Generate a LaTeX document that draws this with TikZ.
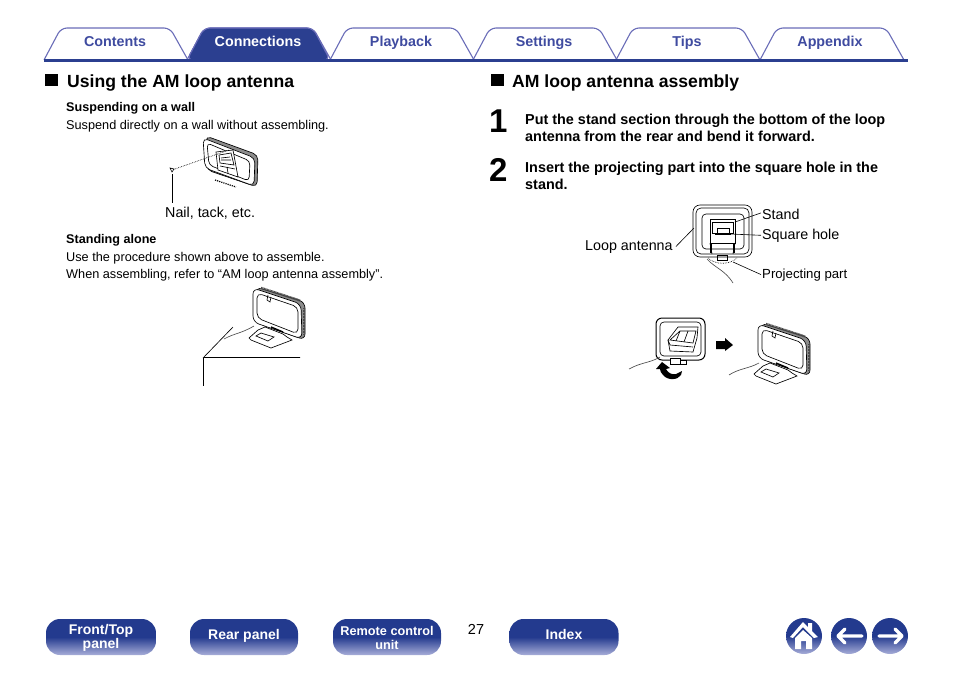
\documentclass[tikz,border=0pt]{standalone}
\usepackage{fontspec}
\setmainfont{Liberation Sans}
\usepackage{color}
\definecolor{tabblue}{HTML}{2B3F90}
\definecolor{tabtext}{HTML}{3F4BA0}
\definecolor{tabedge}{HTML}{6A6DB8}
\definecolor{btnlight}{HTML}{A7ADD8}
\definecolor{btndark}{HTML}{233A8E}
\tikzset{
  tablabel/.style={anchor=base,inner sep=0pt,text=tabtext,font=\fontsize{14.3}{14.3}\selectfont\bfseries},
  heading/.style={anchor=base west,inner sep=0pt,font=\fontsize{17.6}{17.6}\selectfont\bfseries},
  stepnum/.style={anchor=base west,inner sep=0pt,font=\fontsize{33}{33}\selectfont\bfseries},
  steptext/.style={anchor=north west,inner sep=0pt,align=left,font=\fontsize{14.4}{17}\selectfont\bfseries},
  subhead/.style={anchor=base west,inner sep=0pt,font=\fontsize{12.6}{12.6}\selectfont\bfseries},
  bodytext/.style={anchor=base west,inner sep=0pt,font=\fontsize{12.7}{12.7}\selectfont},
  partlabel/.style={anchor=base west,inner sep=0pt,font=\fontsize{14.3}{14.3}\selectfont},
  navbtn/.style={draw=none,rounded corners=14pt,minimum width=110pt,minimum height=36pt,
    top color=btndark,bottom color=btnlight,middle color=btndark,shading angle=0,
    align=center,inner sep=0pt},
  navtext/.style={anchor=base,inner sep=0pt,text=white,font=\fontsize{14}{14}\selectfont\bfseries},
  roundbtn/.style={circle,minimum size=36pt,inner sep=0pt,top color=btndark,
    bottom color=btnlight,middle color=btndark},
  leader/.style={line width=0.6pt},
  thinline/.style={line width=0.65pt},
  hatchedge/.style={line width=2.2pt,draw=black!70,dash pattern=on 1pt off 0.5pt}
}
% the loop antenna seen from the side, on its stand
\newcommand{\standloop}[2]{
\begin{scope}[shift={(#1,#2)}]
\draw[thinline,fill=black!45,rounded corners=6pt] (3,0) -- (52,15) -- (52,53) -- (4,36) -- cycle;
\draw[hatchedge] (8,0.8) -- (47,13.5);
\draw[hatchedge] (51,21) -- (51,47);
\draw[thinline,fill=white,rounded corners=6pt] (0,1) -- (48,17) -- (49,52) -- (0,35) -- cycle;
\draw[thinline,rounded corners=5pt] (4,6) -- (45,20) -- (45,47) -- (4,31) -- cycle;
\draw[thinline,fill=white] (5,43) -- (-4,51) -- (-2,53) -- (18,61) -- (39,53) -- (34,50) -- (30,47) -- (12,40) -- cycle;
\draw[thinline] (3,49) -- (8,46) -- (21,50) -- (15,54) -- cycle;
\draw[line width=1.4pt] (18,40) -- (30,45);
\draw[thinline] (15,8) -- (14,13) -- (17,15) -- (18,10);
\end{scope}
}
\begin{document}
\begin{tikzpicture}[x=1pt,y=-1pt]
\useasboundingbox (0,0) rectangle (954,673);
% tabs along the top
\foreach \tabx in {44,187,330,473,616,760}{
  \draw[tabedge,line width=1.1pt,fill=white,rounded corners=6pt] (\tabx,60) -- (\tabx+17,28) -- (\tabx+126,28) -- (\tabx+144,60);
}
\fill[tabblue,draw=tabedge,line width=1.1pt,rounded corners=6pt] (187,60) -- (204,28) -- (313,28) -- (330,60) -- cycle;
\fill[tabblue] (44,59) rectangle (908,62);
\node[tablabel] (contents) at (115,46) {Contents};
\node[tablabel,text=white] (connections) at (258,46) {Connections};
\node[tablabel] (playback) at (401,46) {Playback};
\node[tablabel] (settings) at (544,46) {Settings};
\node[tablabel] (tips) at (687,46) {Tips};
\node[tablabel] (appendix) at (830,46) {Appendix};
% left column
\fill (45,74) rectangle (58,86);
\node[heading] (usingam) at (67,87) {Using the AM loop antenna};
\node[subhead] (suspending) at (66,111) {Suspending on a wall};
\node[bodytext] (suspend) at (66,129) {Suspend directly on a wall without assembling.};
\node[partlabel] (nail) at (165,217) {Nail, tack, etc.};
\node[subhead] (standing) at (66,243) {Standing alone};
\node[bodytext] (useproc) at (66,261) {Use the procedure shown above to assemble.};
\node[bodytext] (whenass) at (66,278) {When assembling, refer to “AM loop antenna assembly”.};
% antenna on the wall
\draw[thinline,fill=black!45,rounded corners=5pt] (206,136) -- (258,155) -- (257,187) -- (207,170) -- cycle;
\draw[thinline,fill=white,rounded corners=5pt] (203,138) -- (255,158) -- (254,186) -- (205,168) -- cycle;
\draw[thinline,rounded corners=4pt] (207,143) -- (250,161) -- (249,181) -- (209,165) -- cycle;
\draw[thinline,fill=white] (216,152) -- (233,150) -- (238,177) -- (218,170) -- cycle;
\draw[thinline] (219,155) -- (231,153) -- (234,165) -- (220,163) -- cycle;
\draw[thinline] (221,158) -- (230,157) (221,160) -- (231,160) (220,166) -- (235,169);
\draw[thinline] (227,167) -- (228,173);
\draw[line width=1.2pt,densely dotted] (215,180) -- (236,187);
\coordinate (nailtip) at (172,170);
\coordinate (nailback) at (172,174);
\coordinate (wallhook) at (229,150);
\draw[thinline,densely dotted] (nailtip) -- (wallhook);
\draw[thinline,fill=white] (170,168) -- (174,169) -- (172,172) -- cycle;
\draw[leader] (nailback) -- (172,203);
% antenna standing on a table
\standloop{253}{287}
\coordinate (wireone) at (224,339);
\coordinate (wiretwo) at (254,326);
\draw[thinline,black!70] (wireone) .. controls (235,333) and (240,334) .. (wiretwo);
\coordinate (tablecorner) at (203.5,357.5);
\coordinate (tableback) at (233,327);
\coordinate (tableright) at (300,357.5);
\coordinate (tableleg) at (203.5,386);
\draw[thinline] (tableback) -- (tablecorner) -- (tableright);
\draw[thinline] (tablecorner) -- (tableleg);
% right column
\fill (491,74) rectangle (504,86);
\node[heading] (assembly) at (512,87) {AM loop antenna assembly};
\node[stepnum] (stepone) at (489,132) {1};
\node[steptext] (puttext) at (525,113.5) {Put the stand section through the bottom of the loop\\antenna from the rear and bend it forward.};
\node[stepnum] (steptwo) at (489,181) {2};
\node[steptext] (inserttext) at (525,161.5) {Insert the projecting part into the square hole in the\\stand.};
% front view with its parts
\draw[thinline,rounded corners=7pt] (693,205) rectangle (752,257);
\draw[thinline,rounded corners=5pt] (696,208) rectangle (749,254);
\draw[thinline,rounded corners=4pt] (702,214) rectangle (744,249);
\draw[thinline,fill=white] (710,219) rectangle (735,243);
\draw[thinline] (712,222) rectangle (733,233);
\draw[thinline] (717,228) rectangle (729,233);
\draw[line width=1.4pt] (715,234) -- (731,234);
\draw[thinline] (710,243) -- (712,254) (735,243) -- (733,254);
\draw[line width=1.1pt] (711,244) -- (711,253) (734,244) -- (734,253);
\draw[thinline,densely dotted] (708,258) .. controls (715,265) and (730,265) .. (737,258);
\draw[thinline] (717,255) rectangle (727,260);
\draw[thinline,black!70] (707,259) .. controls (715,268) and (725,270) .. (733,283);
\node[partlabel] (standlabel) at (762,219) {Stand};
\node[partlabel] (holelabel) at (762,239) {Square hole};
\node[partlabel] (looplabel) at (585,250) {Loop antenna};
\node[bodytext,font=\fontsize{13.2}{13.2}\selectfont] (projectlabel) at (762,278) {Projecting part};
\coordinate (standpt) at (735,222);
\coordinate (holept) at (730,234);
\coordinate (looppt) at (694,228);
\coordinate (projectpt) at (733,262);
\draw[leader] (standlabel.west) ++(-1,-1) -- (standpt);
\draw[leader] (holelabel.west) ++(-1,0) -- (holept);
\draw[leader] (looplabel.east) ++(3,0) -- (looppt);
\draw[leader] (projectlabel.west) ++(-1,0) -- (projectpt);
% bending the stand forward
\draw[line width=1pt,rounded corners=6pt] (656,318) rectangle (705,360);
\draw[thinline,rounded corners=4pt] (660,322) rectangle (701,356);
\draw[thinline,fill=white] (668,340) -- (678,327) -- (698,327) -- (697,338) -- (693,352) -- (670,351) -- (668,340);
\draw[thinline] (670,340) -- (680,331) -- (696,331) -- (693,343) -- cycle;
\draw[thinline] (680,331) -- (676,341) (688,331) -- (684,342);
\draw[thinline] (668,340) -- (670,345) -- (693,347);
\draw[thinline,fill=white] (670,358) rectangle (680,364);
\draw[thinline,fill=white] (680,360) rectangle (686,364);
\coordinate (bendwireone) at (629,369);
\coordinate (bendwiretwo) at (660,357);
\draw[thinline,black!70] (bendwireone) .. controls (642,362) and (650,363) .. (bendwiretwo);
\fill (662,362) -- (670,368) -- (666,369) .. controls (668,373) and (672,375) .. (676,374) -- (682,371) -- (681,375) .. controls (678,380) and (668,381) .. (663,375) .. controls (661,373) and (660,371) .. (660,369) -- (656,369) -- cycle;
\fill (716,341) -- (725,341) -- (725,338) -- (733,345) -- (725,351) -- (725,349) -- (716,349) -- cycle;
\standloop{758}{323}
\coordinate (lastwireone) at (729,375);
\coordinate (lastwiretwo) at (759,363);
\draw[thinline,black!70] (lastwireone) .. controls (740,368) and (748,369) .. (lastwiretwo);
% bottom row
\node[anchor=base,inner sep=0pt,font=\fontsize{14.5}{14.5}\selectfont] (page) at (476,634) {27};
\node[navbtn] (frontbtn) at (101,637) {};
\node[navbtn,minimum width=108pt] (rearbtn) at (244,637) {};
\node[navbtn,minimum width=108pt] (remotebtn) at (387,637) {};
\node[navbtn,minimum width=109pt] (indexbtn) at (564,637) {};
\node[navtext] (fronttop) at (101,634) {Front/Top};
\node[navtext] (frontpanel) at (101,648) {panel};
\node[navtext] (reartext) at (244,639) {Rear panel};
\node[navtext,font=\fontsize{12.7}{12.7}\selectfont\bfseries] (remotetext) at (387,635) {Remote control};
\node[navtext,font=\fontsize{12.7}{12.7}\selectfont\bfseries] (unittext) at (387,649) {unit};
\node[navtext] (indextext) at (564,639) {Index};
\node[roundbtn] (homebtn) at (804,636) {};
\node[roundbtn] (backbtn) at (849,636) {};
\node[roundbtn] (nextbtn) at (890,636) {};
% icons on the round buttons
\fill[white] (790,637) -- (803,622) -- (808,627) -- (808,623) -- (812,623) -- (812,631) -- (818,637) -- (814,638) -- (803,627) -- (793,638) -- cycle;
\fill[white] (795,638) -- (803,630) -- (812,638) -- (812,649) -- (806,649) -- (806,641) -- (801,641) -- (801,649) -- (795,649) -- cycle;
\draw[white,line width=3.4pt,line cap=round,line join=round] (862,636) -- (838,636) (845,629) -- (838,636) -- (845,643);
\draw[white,line width=3.4pt,line cap=round,line join=round] (879,636) -- (902,636) (895,629) -- (902,636) -- (895,643);
\end{tikzpicture}
\end{document}
